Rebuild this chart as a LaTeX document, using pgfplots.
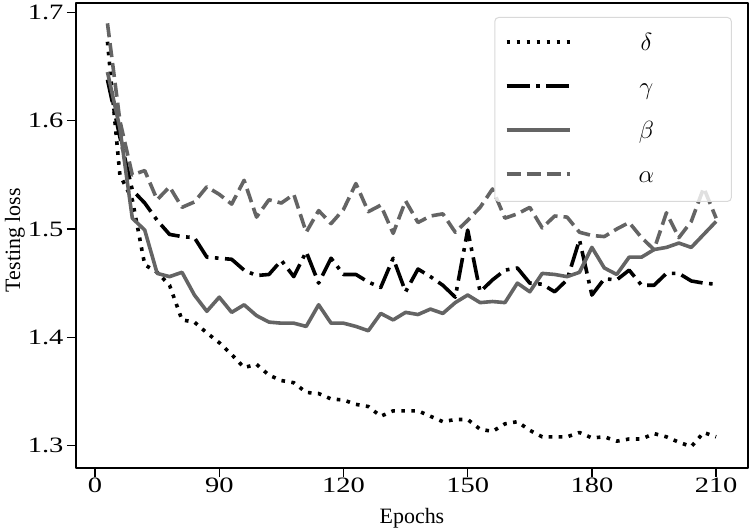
\documentclass[border=0pt]{standalone}
\usepackage{fontspec}
\setmainfont{Liberation Serif}
\usepackage{pgfplots}
\usepackage{pgfplotstable}
\pgfplotsset{compat=1.18}
\newfontfamily\tickfont{Liberation Serif}[FakeStretch=1.3]
\definecolor{dimg}{RGB}{100,100,100}

\pgfplotstableread{
x y
63 1.673
66 1.550
69 1.527
72 1.467
75 1.460
78 1.448
81 1.416
84 1.414
87 1.404
90 1.395
93 1.384
96 1.372
99 1.375
102 1.365
105 1.360
108 1.358
111 1.349
114 1.348
117 1.343
120 1.342
123 1.338
126 1.336
129 1.327
132 1.332
135 1.332
138 1.332
141 1.327
144 1.322
147 1.324
150 1.324
153 1.315
156 1.313
159 1.320
162 1.322
165 1.314
168 1.308
171 1.308
174 1.308
177 1.312
180 1.307
183 1.308
186 1.304
189 1.306
192 1.306
195 1.311
198 1.308
201 1.303
204 1.299
207 1.312
210 1.308
}\tdelta

\pgfplotstableread{
x y
63 1.638
66 1.585
69 1.536
72 1.524
75 1.508
78 1.495
81 1.493
84 1.492
87 1.474
90 1.473
93 1.472
96 1.462
99 1.457
102 1.458
105 1.471
108 1.456
111 1.479
114 1.450
117 1.473
120 1.458
123 1.458
126 1.451
129 1.446
132 1.473
135 1.442
138 1.463
141 1.456
144 1.448
147 1.437
150 1.499
153 1.442
156 1.453
159 1.462
162 1.464
165 1.450
168 1.449
171 1.442
174 1.453
177 1.490
180 1.439
183 1.454
186 1.453
189 1.462
192 1.448
195 1.448
198 1.459
201 1.459
204 1.452
207 1.450
210 1.449
}\tgamma

\pgfplotstableread{
x y
63 1.645
66 1.593
69 1.510
72 1.499
75 1.459
78 1.456
81 1.460
84 1.439
87 1.424
90 1.437
93 1.423
96 1.430
99 1.420
102 1.414
105 1.413
108 1.413
111 1.410
114 1.430
117 1.413
120 1.413
123 1.410
126 1.406
129 1.422
132 1.416
135 1.423
138 1.421
141 1.426
144 1.422
147 1.432
150 1.439
153 1.432
156 1.433
159 1.432
162 1.450
165 1.442
168 1.459
171 1.458
174 1.456
177 1.460
180 1.483
183 1.464
186 1.458
189 1.474
192 1.474
195 1.481
198 1.483
201 1.487
204 1.483
207 1.495
210 1.507
}\tbeta

\pgfplotstableread{
x y
63 1.690
66 1.600
69 1.550
72 1.554
75 1.527
78 1.539
81 1.520
84 1.525
87 1.539
90 1.532
93 1.523
96 1.545
99 1.511
102 1.527
105 1.524
108 1.532
111 1.497
114 1.517
117 1.505
120 1.518
123 1.542
126 1.516
129 1.522
132 1.496
135 1.526
138 1.506
141 1.512
144 1.514
147 1.497
150 1.508
153 1.520
156 1.537
159 1.510
162 1.514
165 1.520
168 1.501
171 1.512
174 1.511
177 1.497
180 1.494
183 1.493
186 1.500
189 1.506
192 1.492
195 1.481
198 1.515
201 1.492
204 1.507
207 1.538
210 1.510
}\talpha

\begin{document}
\begin{tikzpicture}
\begin{axis}[
  scale only axis, width=672bp, height=465bp,
  xmin=55.4, xmax=217.7, ymin=1.2792, ymax=1.7088,
  xtick={60,90,120,150,180,210},
  xticklabels={0,90,120,150,180,210},
  ytick={1.3,1.4,1.5,1.6,1.7},
  yticklabels={1.3,1.4,1.5,1.6,1.7},
  tick pos=left, tick align=outside,
  major tick length=9bp,
  tick style={line width=1.3bp, black},
  axis line style={line width=1.6bp, black},
  ticklabel style={font=\fontsize{22}{22}\selectfont\tickfont},
  xticklabel style={yshift=3bp},
  label style={font=\fontsize{22}{22}\selectfont},
  xlabel={Epochs}, ylabel={Testing loss},
  xlabel style={at={(axis description cs:0.5,0)}, anchor=base, yshift=-55bp},
  ylabel style={at={(axis description cs:-0.0833,0.49)}, anchor=base},
  legend style={at={(axis description cs:0.976,0.970)}, anchor=north east,
    draw=black!15, line width=1bp, rounded corners=4bp, fill=white,
    fill opacity=0.8, text opacity=1, inner xsep=10bp, inner ysep=4bp,
    font=\fontsize{30}{30}\selectfont,
    nodes={text width=150bp, align=center, text height=22bp, text depth=8bp, inner ysep=7bp, inner xsep=0bp}},
  legend image code/.code={\draw[#1] (0bp,1.5bp) -- (63bp,1.5bp);},
  line join=round,
]
\addplot[black, line width=3.6bp, dash pattern=on 3.6bp off 6.4bp] table {\tdelta};
\addlegendentry{$\delta$}
\addplot[black, line width=3.6bp, dash pattern=on 23bp off 6.5bp on 3.6bp off 6.5bp] table {\tgamma};
\addlegendentry{$\gamma$}
\addplot[dimg, line width=3.6bp] table {\tbeta};
\addlegendentry{$\beta$}
\addplot[dimg, line width=3.6bp, dash pattern=on 14bp off 6bp] table {\talpha};
\addlegendentry{$\alpha$}
\coordinate (bl) at (rel axis cs:0,0);
\coordinate (tr) at (rel axis cs:1,1);
\end{axis}
\pgfresetboundingbox
\path[use as bounding box] ([shift={(-76bp,-62bp)}]bl) rectangle ([shift={(2bp,3bp)}]tr);
\end{tikzpicture}
\end{document}
